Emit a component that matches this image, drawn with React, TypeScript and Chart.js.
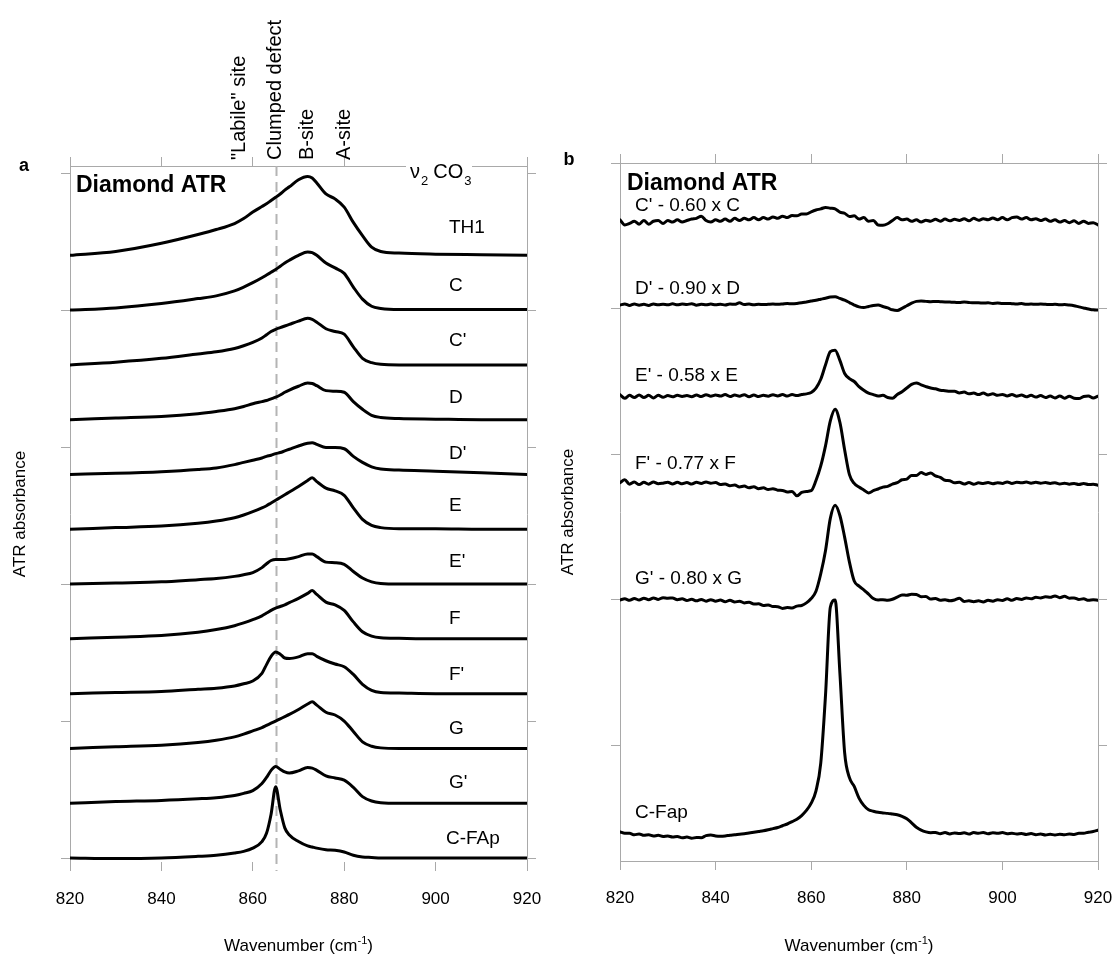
import React, { useEffect, useRef } from "react";
import { Chart, registerables } from "chart.js";

Chart.register(...registerables);

// ---------- Panel a data (relative absorbance above each trace's baseline) ----------
const wavesA = [820, 830, 840, 848, 852, 856, 858, 860, 862, 863, 864, 865, 866, 867, 868, 870, 872, 873, 874, 876, 878, 880, 882, 884, 886, 888, 892, 900, 910, 920];

const th1A = [0, 0.07, 0.22, 0.38, 0.47, 0.58, 0.67, 0.79, 0.89, 0.94, 1.0, 1.06, 1.12, 1.19, 1.25, 1.38, 1.44, 1.41, 1.32, 1.12, 1.03, 0.88, 0.6, 0.36, 0.15, 0.07, 0.04, 0.02, 0.01, 0];
const cA = [0, 0.04, 0.12, 0.21, 0.26, 0.35, 0.42, 0.5, 0.59, 0.64, 0.69, 0.74, 0.8, 0.86, 0.91, 1.0, 1.06, 1.05, 1.0, 0.86, 0.77, 0.67, 0.42, 0.2, 0.07, 0.03, 0.01, 0.01, 0.01, 0.01];
const cpA = [0, 0.05, 0.12, 0.2, 0.24, 0.3, 0.35, 0.41, 0.49, 0.55, 0.61, 0.65, 0.68, 0.71, 0.74, 0.8, 0.85, 0.83, 0.78, 0.66, 0.61, 0.56, 0.33, 0.12, 0.04, 0.01, 0, 0, 0, 0];
const dA = [0, 0.03, 0.06, 0.11, 0.15, 0.2, 0.24, 0.29, 0.33, 0.35, 0.38, 0.41, 0.45, 0.5, 0.54, 0.61, 0.67, 0.66, 0.62, 0.53, 0.52, 0.5, 0.33, 0.19, 0.08, 0.04, 0.02, 0.01, 0, 0];
const dpA = [0, 0.02, 0.05, 0.09, 0.12, 0.18, 0.22, 0.26, 0.3, 0.33, 0.35, 0.38, 0.4, 0.43, 0.46, 0.52, 0.57, 0.58, 0.55, 0.49, 0.49, 0.47, 0.33, 0.22, 0.14, 0.1, 0.08, 0.06, 0.03, 0];
const eA = [0, 0.03, 0.06, 0.11, 0.15, 0.21, 0.26, 0.32, 0.39, 0.43, 0.48, 0.53, 0.58, 0.63, 0.68, 0.78, 0.89, 0.94, 0.87, 0.75, 0.7, 0.62, 0.39, 0.18, 0.07, 0.03, 0.01, 0.01, 0, 0];
const epA = [0, 0.02, 0.04, 0.08, 0.1, 0.14, 0.17, 0.21, 0.3, 0.37, 0.43, 0.45, 0.45, 0.45, 0.46, 0.5, 0.55, 0.55, 0.5, 0.4, 0.39, 0.36, 0.23, 0.11, 0.04, 0.01, 0, 0, 0, 0];
const fA = [0, 0.03, 0.06, 0.12, 0.17, 0.24, 0.29, 0.35, 0.42, 0.47, 0.52, 0.56, 0.59, 0.62, 0.66, 0.74, 0.83, 0.88, 0.81, 0.67, 0.62, 0.52, 0.31, 0.13, 0.05, 0.02, 0.01, 0, 0, 0];
const fpA = [0, 0.02, 0.04, 0.08, 0.1, 0.14, 0.18, 0.23, 0.37, 0.53, 0.68, 0.76, 0.72, 0.65, 0.64, 0.67, 0.73, 0.73, 0.68, 0.6, 0.54, 0.49, 0.35, 0.17, 0.06, 0.02, 0.01, 0, 0, 0];
const gA = [0, 0.03, 0.06, 0.11, 0.15, 0.21, 0.26, 0.32, 0.38, 0.42, 0.46, 0.5, 0.54, 0.58, 0.62, 0.71, 0.81, 0.85, 0.79, 0.66, 0.61, 0.5, 0.31, 0.12, 0.04, 0.01, 0, 0, 0, 0];
const gpA = [0, 0.03, 0.05, 0.08, 0.1, 0.14, 0.18, 0.23, 0.36, 0.47, 0.6, 0.67, 0.62, 0.57, 0.55, 0.59, 0.65, 0.64, 0.6, 0.5, 0.46, 0.42, 0.29, 0.12, 0.04, 0.01, 0, 0, 0, 0];
const cfapA = [0, -0.01, 0, 0.03, 0.05, 0.09, 0.12, 0.18, 0.3, 0.45, 0.8, 1.3, 0.88, 0.55, 0.42, 0.3, 0.22, 0.2, 0.18, 0.15, 0.14, 0.11, 0.05, 0.02, 0.01, 0, 0, 0, 0, 0];

const namesA = ["TH1", "C", "C'", "D", "D'", "E", "E'", "F", "F'", "G", "G'", "C-FAp"];
const seriesA = [th1A, cA, cpA, dA, dpA, eA, epA, fA, fpA, gA, gpA, cfapA];
const offsetsA = [11, 10, 9, 8, 7, 6, 5, 4, 3, 2, 1, 0];
const yTicksA = [0, 2.5, 5, 7.5, 10, 12.5];

const siteLabels = ['"Labile" site', "Clumped defect", "B-site", "A-site"];
const siteWaves = [857, 865, 872, 880];
const dashedWave = 865;

// ---------- Panel b data (difference spectra) ----------
const wavesB = [
  820, 821, 822, 823, 824, 825, 826, 827, 828, 829, 830, 831, 832, 833, 834, 835, 836, 837, 838, 839,
  840, 841, 842, 843, 844, 845, 846, 847, 848, 849, 850, 851, 852, 853, 854, 855, 856, 857, 858, 859,
  860, 861, 862, 863, 864, 865, 866, 867, 868, 869, 870, 871, 872, 873, 874, 875, 876, 877, 878, 879,
  880, 881, 882, 883, 884, 885, 886, 887, 888, 889, 890, 891, 892, 893, 894, 895, 896, 897, 898, 899,
  900, 901, 902, 903, 904, 905, 906, 907, 908, 909, 910, 911, 912, 913, 914, 915, 916, 917, 918, 919, 920,
];

const cpB = [
  0.15, -0.2, -0.1, 0.05, -0.15, 0.1, -0.15, 0.05, 0.1, -0.1,
  0.1, 0.0, 0.15, 0.0, 0.1, 0.2, 0.25, 0.4, 0.1, 0.0,
  0.15, 0.05, 0.2, 0.05, 0.25, 0.1, 0.25, 0.15, 0.3, 0.15,
  0.3, 0.2, 0.35, 0.25, 0.4, 0.3, 0.45, 0.42, 0.55, 0.55,
  0.7, 0.82, 0.9, 1.0, 0.95, 0.9, 0.68, 0.6, 0.38, 0.42,
  0.2, 0.3, 0.05, 0.1, -0.2, -0.22, -0.12, 0.1, 0.3, 0.15,
  0.2, 0.05, 0.15, 0.0, 0.12, 0.05, 0.18, 0.05, 0.2, 0.08,
  0.18, 0.1, 0.22, 0.08, 0.25, 0.12, 0.22, 0.15, 0.28, 0.15,
  0.3, 0.15, 0.3, 0.35, 0.2, 0.3, 0.15, 0.22, 0.1, 0.2,
  0.05, 0.15, 0.0, 0.1, -0.05, 0.08, -0.1, 0.05, -0.1, -0.05,
  -0.2,
];
const dpB = [
  0.05, 0.12, 0.02, 0.12, 0.04, 0.1, 0.02, 0.12, 0.06, 0.1,
  0.06, 0.14, 0.06, 0.12, 0.08, 0.14, 0.04, 0.1, 0.06, 0.12,
  0.06, 0.1, 0.05, 0.12, 0.1, 0.2, 0.08, 0.12, 0.06, 0.1,
  0.08, 0.1, 0.12, 0.1, 0.12, 0.15, 0.14, 0.16, 0.2, 0.26,
  0.32, 0.38, 0.45, 0.52, 0.6, 0.62, 0.5, 0.38, 0.22, 0.05,
  -0.08, -0.12, -0.05, 0.02, 0.05, -0.05, -0.15, -0.28, -0.32, -0.18,
  0.0, 0.18, 0.3, 0.32, 0.3, 0.28, 0.3, 0.28, 0.26, 0.25,
  0.24, 0.22, 0.25, 0.22, 0.2, 0.2, 0.18, 0.2, 0.16, 0.18,
  0.15, 0.16, 0.14, 0.12, 0.15, 0.1, 0.12, 0.1, 0.12, 0.1,
  0.08, 0.1, 0.06, 0.08, 0.05, 0.0, -0.08, -0.15, -0.22, -0.28,
  -0.3,
];
const epB = [
  0.15, -0.1, 0.1, -0.05, 0.12, -0.05, 0.1, -0.08, 0.1, -0.04,
  0.08, 0.0, 0.1, 0.02, 0.08, 0.0, 0.12, 0.02, 0.14, 0.04,
  0.12, 0.05, 0.15, 0.02, 0.12, 0.04, 0.14, 0.0, 0.12, 0.02,
  0.1, 0.04, 0.14, 0.06, 0.15, 0.05, 0.16, 0.08, 0.15, 0.2,
  0.3, 0.6, 1.2, 2.2, 3.1, 3.2, 2.5, 1.6, 1.25, 1.05,
  0.7, 0.45, 0.25, 0.15, 0.05, 0.1, -0.05, -0.1, 0.15, 0.35,
  0.6, 0.85, 0.95, 0.82, 0.7, 0.6, 0.55, 0.45, 0.42, 0.38,
  0.38, 0.26, 0.32, 0.2, 0.26, 0.15, 0.26, 0.12, 0.2, 0.1,
  0.16, 0.06, 0.15, 0.04, 0.12, 0.0, 0.1, -0.02, 0.08, -0.05,
  0.05, -0.08, 0.06, -0.1, 0.04, -0.1, -0.12, 0.02, 0.06, -0.08,
  0.04,
];
const fpB = [
  0.05, 0.25, -0.05, 0.1, -0.08, 0.08, -0.05, 0.1, -0.02, 0.02,
  0.08, -0.04, 0.08, -0.02, 0.06, -0.04, 0.08, 0.0, 0.1, 0.02,
  0.06, -0.08, -0.04, -0.16, -0.1, -0.24, -0.18, -0.3, -0.22, -0.36,
  -0.3, -0.42, -0.36, -0.46, -0.48, -0.58, -0.55, -0.85, -0.62, -0.55,
  -0.5, 0.2, 1.2, 2.6, 4.3, 5.1, 4.2, 2.3, 0.6, 0.0,
  -0.25, -0.45, -0.65, -0.5, -0.38, -0.25, -0.2, -0.05, 0.05, 0.25,
  0.3, 0.55, 0.55, 0.75, 0.62, 0.72, 0.52, 0.42, 0.22, 0.18,
  0.04, 0.08, -0.04, 0.06, -0.05, 0.04, 0.0, 0.06, -0.02, 0.05,
  0.0, 0.1, 0.0, 0.08, 0.04, 0.1, 0.02, 0.08, 0.02, 0.06,
  0.0, 0.05, -0.04, 0.02, -0.05, 0.0, -0.08, 0.0, -0.08, -0.05,
  -0.12,
];
const gpB = [
  0.0, 0.08, -0.02, 0.1, 0.0, 0.12, 0.02, 0.14, 0.04, 0.16,
  0.12, 0.14, 0.02, 0.08, -0.04, 0.05, -0.06, 0.04, -0.08, 0.02,
  -0.08, 0.0, -0.12, -0.02, -0.14, -0.08, -0.2, -0.16, -0.28, -0.26,
  -0.38, -0.34, -0.45, -0.46, -0.58, -0.52, -0.55, -0.42, -0.38, -0.2,
  0.1, 0.6, 1.8, 3.4, 5.6, 6.5, 5.8, 4.3, 2.6, 1.3,
  0.95, 0.7, 0.4, 0.1, 0.0, 0.02, -0.02, 0.05, 0.2, 0.35,
  0.32, 0.4, 0.38, 0.22, 0.24, 0.06, 0.1, -0.02, 0.02, -0.06,
  0.0, 0.12, -0.1, -0.06, -0.12, -0.06, -0.14, -0.02, -0.08, 0.02,
  -0.04, 0.08, -0.02, 0.1, 0.04, 0.14, 0.08, 0.18, 0.14, 0.22,
  0.18, 0.28, 0.16, 0.25, 0.12, 0.14, 0.04, 0.08, -0.02, 0.02,
  -0.02,
];
const cfapB = [
  0.08, -0.02, -0.02, -0.12, -0.06, -0.16, -0.12, -0.2, -0.16, -0.24,
  -0.2, -0.28, -0.24, -0.33, -0.28, -0.36, -0.3, -0.32, -0.18, -0.14,
  -0.2, -0.22, -0.2, -0.15, -0.12, -0.08, -0.05, 0.0, 0.05, 0.1,
  0.15, 0.22, 0.3, 0.38, 0.5, 0.62, 0.78, 0.95, 1.2, 1.55,
  2.05, 2.9, 4.8, 9.5, 15.5, 16.0, 11.0, 5.5, 3.8, 3.2,
  2.4, 1.9, 1.6, 1.5, 1.42, 1.38, 1.35, 1.3, 1.25, 1.15,
  0.98, 0.7, 0.4, 0.2, 0.08, 0.02, 0.04, -0.05, 0.03, -0.06,
  0.01, -0.04, 0.02, -0.07, 0.03, -0.02, 0.04, -0.05, 0.02, -0.02,
  0.03, -0.05, -0.02, -0.06, -0.03, -0.1, -0.04, -0.12, -0.06, -0.14,
  -0.08, -0.14, -0.08, -0.12, -0.06, -0.1, -0.02, -0.02, 0.06, 0.1,
  0.2,
];

const namesB = ["C' - 0.60 x C", "D' - 0.90 x D", "E' - 0.58 x E", "F' - 0.77 x F", "G' - 0.80 x G", "C-Fap"];
const seriesB = [cpB, dpB, epB, fpB, gpB, cfapB];
const offsetsB = [41.95, 36.2, 29.95, 24, 16, 0];
const yTicksB = [6, 16, 26, 36, 46];

const xTicks = [820, 840, 860, 880, 900, 920];

// ---------- styling / layout constants ----------
const FONT = "'Liberation Sans', Arial, Helvetica, sans-serif";
const AXIS_GRAY = "#a9a9a9";
const LABEL_LIFT_A = [28, 24, 24, 22, 21, 23, 22, 20, 19, 20, 20, 19];
const LABEL_LIFT_B = [16, 17, 21, 20, 21, 20];

function makeDatasets(waves: number[], series: number[][], offsets: number[], names: string[]) {
  return series.map((vals, i) => ({
    label: names[i],
    data: waves.map((w, j) => ({ x: w, y: vals[j] + offsets[i] })),
    borderColor: "#000",
    borderWidth: 3,
    pointRadius: 0,
    fill: false,
    cubicInterpolationMode: "monotone" as const,
    borderJoinStyle: "round" as const,
    borderCapStyle: "round" as const,
  }));
}

function makeScales(opts: {
  yMin: number; yMax: number; yTicks: number[];
  left: number; right: number; top: number; bottom: number; bottomBorder: boolean;
}) {
  const grid = { drawOnChartArea: false, drawTicks: true, tickLength: 9, color: AXIS_GRAY, lineWidth: 1 };
  const border = { display: true, color: AXIS_GRAY, width: 1 };
  const setX = (s: any) => { s.ticks = xTicks.map((v) => ({ value: v })); };
  const setY = (s: any) => { s.ticks = opts.yTicks.map((v) => ({ value: v })); };
  return {
    x: {
      type: "linear", position: "bottom", min: 820, max: 920,
      afterBuildTicks: setX,
      afterFit: (s: any) => { s.height = opts.bottom; s.paddingLeft = 0; s.paddingRight = 0; },
      ticks: { font: { family: FONT, size: 17 }, color: "#000", padding: 18, autoSkip: false, maxRotation: 0, minRotation: 0 },
      grid,
      border: { ...border, display: opts.bottomBorder },
    },
    x2: {
      type: "linear", position: "top", min: 820, max: 920,
      afterBuildTicks: setX,
      afterFit: (s: any) => { s.height = opts.top; s.paddingLeft = 0; s.paddingRight = 0; },
      ticks: { display: false },
      grid,
      border,
    },
    y: {
      type: "linear", position: "left", min: opts.yMin, max: opts.yMax,
      afterBuildTicks: setY,
      afterFit: (s: any) => { s.width = opts.left; s.paddingTop = 0; s.paddingBottom = 0; },
      ticks: { display: false },
      grid,
      border,
    },
    y2: {
      type: "linear", position: "right", min: opts.yMin, max: opts.yMax,
      afterBuildTicks: setY,
      afterFit: (s: any) => { s.width = opts.right; s.paddingTop = 0; s.paddingBottom = 0; },
      ticks: { display: false },
      grid,
      border,
    },
  };
}

function drawXTitle(ctx: CanvasRenderingContext2D, cx: number, baseY: number) {
  const main = "Wavenumber (cm";
  const sup = "-1";
  const end = ")";
  ctx.save();
  ctx.fillStyle = "#000";
  ctx.textAlign = "left";
  ctx.textBaseline = "alphabetic";
  ctx.font = `17px ${FONT}`;
  const w1 = ctx.measureText(main).width;
  const w3 = ctx.measureText(end).width;
  ctx.font = `11px ${FONT}`;
  const w2 = ctx.measureText(sup).width;
  let x = cx - (w1 + w2 + w3) / 2;
  ctx.font = `17px ${FONT}`;
  ctx.fillText(main, x, baseY);
  x += w1;
  ctx.font = `11px ${FONT}`;
  ctx.fillText(sup, x, baseY - 7);
  x += w2;
  ctx.font = `17px ${FONT}`;
  ctx.fillText(end, x, baseY);
  ctx.restore();
}

function drawYTitle(ctx: CanvasRenderingContext2D, x: number, cy: number) {
  ctx.save();
  ctx.translate(x, cy);
  ctx.rotate(-Math.PI / 2);
  ctx.fillStyle = "#000";
  ctx.font = `17px ${FONT}`;
  ctx.textAlign = "center";
  ctx.textBaseline = "middle";
  ctx.fillText("ATR absorbance", 0, 0);
  ctx.restore();
}

function baseOptions(scales: any) {
  return {
    responsive: false,
    maintainAspectRatio: false,
    animation: false as const,
    devicePixelRatio: 1,
    layout: { padding: 0 },
    plugins: { legend: { display: false }, tooltip: { enabled: false }, title: { display: false } },
    scales,
  };
}

const overlayA = {
  id: "overlayA",
  beforeDatasetsDraw(chart: any) {
    const ctx = chart.ctx as CanvasRenderingContext2D;
    const xs = chart.scales.x;
    const area = chart.chartArea;
    const px = Math.round(xs.getPixelForValue(dashedWave)) + 0.5;
    ctx.save();
    ctx.strokeStyle = "#b4b4b4";
    ctx.lineWidth = 2;
    ctx.setLineDash([10, 6]);
    ctx.beginPath();
    ctx.moveTo(px, area.top);
    ctx.lineTo(px, area.bottom + 9);
    ctx.stroke();
    ctx.setLineDash([]);
    ctx.strokeStyle = AXIS_GRAY;
    ctx.lineWidth = 1;
    ctx.beginPath();
    ctx.moveTo(Math.round(area.left) + 0.5, area.bottom);
    ctx.lineTo(Math.round(area.left) + 0.5, area.bottom + 9);
    ctx.moveTo(Math.round(area.right) + 0.5, area.bottom);
    ctx.lineTo(Math.round(area.right) + 0.5, area.bottom + 9);
    ctx.stroke();
    ctx.restore();
  },
  afterDraw(chart: any) {
    const ctx = chart.ctx as CanvasRenderingContext2D;
    const xs = chart.scales.x;
    const ys = chart.scales.y;
    const area = chart.chartArea;
    ctx.save();
    ctx.fillStyle = "#000";

    ctx.font = `bold 18px ${FONT}`;
    ctx.textAlign = "center";
    ctx.textBaseline = "middle";
    ctx.fillText("a", 24, 166);

    ctx.font = `bold 23px ${FONT}`;
    ctx.textAlign = "left";
    ctx.textBaseline = "alphabetic";
    ctx.fillText("Diamond ATR", area.left + 6, 192);

    ctx.font = `20px ${FONT}`;
    siteLabels.forEach((t, i) => {
      const x = xs.getPixelForValue(siteWaves[i]);
      ctx.save();
      ctx.translate(x, area.top - 6);
      ctx.rotate(-Math.PI / 2);
      ctx.textAlign = "left";
      ctx.textBaseline = "middle";
      ctx.fillText(t, 0, 0);
      ctx.restore();
    });

    const nuX = 410;
    ctx.fillStyle = "#fff";
    ctx.fillRect(nuX - 4, area.top - 11, 66, 15);
    ctx.fillStyle = "#000";
    ctx.textAlign = "left";
    ctx.textBaseline = "alphabetic";
    let x = nuX;
    ctx.font = `20px ${FONT}`;
    ctx.fillText("\u03bd", x, 178);
    x += ctx.measureText("\u03bd").width + 1;
    ctx.font = `13px ${FONT}`;
    ctx.fillText("2", x, 185);
    x += ctx.measureText("2").width + 5;
    ctx.font = `20px ${FONT}`;
    ctx.fillText("CO", x, 178);
    x += ctx.measureText("CO").width + 1;
    ctx.font = `13px ${FONT}`;
    ctx.fillText("3", x, 185);

    ctx.font = `19px ${FONT}`;
    ctx.textBaseline = "middle";
    namesA.forEach((n, i) => {
      const y = ys.getPixelForValue(offsetsA[i]) - LABEL_LIFT_A[i];
      ctx.fillText(n, n === "C-FAp" ? 446 : 449, y);
    });

    drawYTitle(ctx, 20, (area.top + area.bottom) / 2);
    drawXTitle(ctx, (area.left + area.right) / 2, 951);
    ctx.restore();
  },
};

const overlayB = {
  id: "overlayB",
  afterDraw(chart: any) {
    const ctx = chart.ctx as CanvasRenderingContext2D;
    const ys = chart.scales.y;
    const area = chart.chartArea;
    ctx.save();
    ctx.fillStyle = "#000";

    ctx.font = `bold 18px ${FONT}`;
    ctx.textAlign = "center";
    ctx.textBaseline = "middle";
    ctx.fillText("b", 11, 160);

    ctx.font = `bold 23px ${FONT}`;
    ctx.textAlign = "left";
    ctx.textBaseline = "alphabetic";
    ctx.fillText("Diamond ATR", area.left + 7, 190);

    ctx.font = `19px ${FONT}`;
    ctx.textBaseline = "middle";
    namesB.forEach((n, i) => {
      const y = ys.getPixelForValue(offsetsB[i]) - LABEL_LIFT_B[i];
      ctx.fillText(n, area.left + 15, y);
    });

    drawYTitle(ctx, 10, (area.top + area.bottom) / 2);
    drawXTitle(ctx, (area.left + area.right) / 2, 951);
    ctx.restore();
  },
};

export default function App() {
  const refA = useRef<HTMLCanvasElement>(null);
  const refB = useRef<HTMLCanvasElement>(null);

  useEffect(() => {
    const chartA = new Chart(refA.current as HTMLCanvasElement, {
      type: "line",
      data: { datasets: makeDatasets(wavesA, seriesA, offsetsA, namesA) as any },
      options: baseOptions(
        makeScales({ yMin: -0.073, yMax: 12.63, yTicks: yTicksA, left: 70, right: 31, top: 166, bottom: 98, bottomBorder: false })
      ) as any,
      plugins: [overlayA as any],
    });
    const chartB = new Chart(refB.current as HTMLCanvasElement, {
      type: "line",
      data: { datasets: makeDatasets(wavesB, seriesB, offsetsB, namesB) as any },
      options: baseOptions(
        makeScales({ yMin: -1.92, yMax: 46.0, yTicks: yTicksB, left: 62, right: 18, top: 163, bottom: 99, bottomBorder: true })
      ) as any,
      plugins: [overlayB as any],
    });
    return () => {
      chartA.destroy();
      chartB.destroy();
    };
  }, []);

  return (
    <div style={{ position: "absolute", left: 0, top: 0, width: 1116, height: 960, background: "#fff" }}>
      <canvas ref={refA} width={558} height={960} style={{ position: "absolute", left: 0, top: 0, width: 558, height: 960 }} />
      <canvas ref={refB} width={558} height={960} style={{ position: "absolute", left: 558, top: 0, width: 558, height: 960 }} />
    </div>
  );
}
